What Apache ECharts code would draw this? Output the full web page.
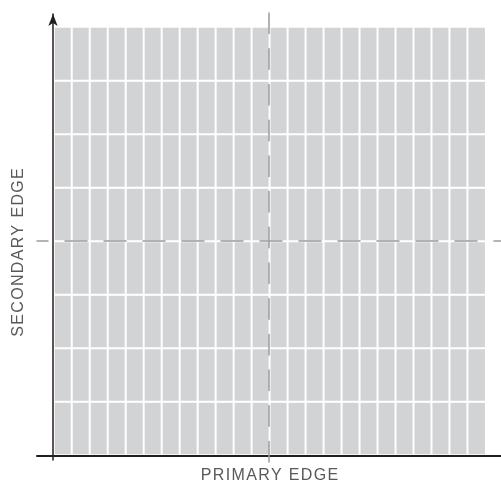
<!DOCTYPE html>
<html>
<head>
<meta charset="utf-8">
<script src="https://cdn.jsdelivr.net/npm/echarts@6/dist/echarts.min.js"></script>
<style>
html,body{margin:0;padding:0;background:#fff;}
#chart{width:501px;height:485px;}
</style>
</head>
<body>
<div id="chart"></div>
<script>
// ---- data ----
const columns = ['C1','C2','C3','C4','C5','C6','C7','C8','C9','C10','C11','C12',
                 'C13','C14','C15','C16','C17','C18','C19','C20','C21','C22','C23','C24'];
const rows = ['R1','R2','R3','R4','R5','R6','R7','R8'];
const cellValues = [
  [1,1,1,1,1,1,1,1,1,1,1,1,1,1,1,1,1,1,1,1,1,1,1,1],
  [1,1,1,1,1,1,1,1,1,1,1,1,1,1,1,1,1,1,1,1,1,1,1,1],
  [1,1,1,1,1,1,1,1,1,1,1,1,1,1,1,1,1,1,1,1,1,1,1,1],
  [1,1,1,1,1,1,1,1,1,1,1,1,1,1,1,1,1,1,1,1,1,1,1,1],
  [1,1,1,1,1,1,1,1,1,1,1,1,1,1,1,1,1,1,1,1,1,1,1,1],
  [1,1,1,1,1,1,1,1,1,1,1,1,1,1,1,1,1,1,1,1,1,1,1,1],
  [1,1,1,1,1,1,1,1,1,1,1,1,1,1,1,1,1,1,1,1,1,1,1,1],
  [1,1,1,1,1,1,1,1,1,1,1,1,1,1,1,1,1,1,1,1,1,1,1,1]
];
const xTitle = 'PRIMARY EDGE';
const yTitle = 'SECONDARY EDGE';

// ---- build ----
const heatData = [];
rows.forEach((r, ri) => columns.forEach((c, ci) => heatData.push([ci, ri, cellValues[ri][ci]])));

const spaced = s => s.split('').join('\u200A');
const FONT = '"Liberation Sans", Arial, sans-serif';
const hidden = {show: false};
const bare = {axisTick: {show: false}, axisLabel: {show: false}, splitLine: {show: false}};

const chart = echarts.init(document.getElementById('chart'), null, {renderer: 'canvas'});
chart.setOption({
  animation: false,
  backgroundColor: '#ffffff',
  grid: [
    {left: 54, right: 15.3, top: 27, bottom: 30},          // cells
    {left: 53, right: 0, top: 14, bottom: 25},             // vertical axis line
    {left: 37, right: 0, top: 300, bottom: 29},            // horizontal axis line
    {left: 37, right: 0, top: 241, bottom: 200},           // horizontal dashed
    {left: 269, right: 100, top: 13, bottom: 23}           // vertical dashed
  ],
  xAxis: [
    {gridIndex: 0, type: 'category', data: columns, show: false},
    {gridIndex: 1, type: 'value', show: false},
    Object.assign({gridIndex: 2, type: 'value', position: 'bottom', z: 6,
      axisLine: {show: true, onZero: false, lineStyle: {color: '#231f20', width: 2}}}, bare),
    Object.assign({gridIndex: 3, type: 'value', position: 'top', z: 10,
      axisLine: {show: true, onZero: false, lineStyle: {color: '#9b9b9b', width: 1.5, type: [22, 17], dashOffset: 11}}}, bare),
    {gridIndex: 4, type: 'value', show: false}
  ],
  yAxis: [
    {gridIndex: 0, type: 'category', data: rows, show: false},
    Object.assign({gridIndex: 1, type: 'value', position: 'left', z: 6,
      axisLine: {show: true, onZero: false, symbol: ['none', 'arrow'], symbolSize: [7, 12],
        lineStyle: {color: '#231f20', width: 1.5}}}, bare),
    {gridIndex: 2, type: 'value', show: false},
    {gridIndex: 3, type: 'value', show: false},
    Object.assign({gridIndex: 4, type: 'value', position: 'left', z: 10,
      axisLine: {show: true, onZero: false, lineStyle: {color: '#9b9b9b', width: 1.5, type: [20.5, 15.2], dashOffset: 0}}}, bare)
  ],
  visualMap: {show: false, min: 0, max: 1, seriesIndex: 0, inRange: {color: ['#d1d3d4', '#d1d3d4']}},
  series: [{
    type: 'heatmap',
    xAxisIndex: 0, yAxisIndex: 0,
    data: heatData,
    itemStyle: {borderColor: '#ffffff', borderWidth: 2},
    emphasis: {disabled: true},
    silent: true
  }],
  graphic: [
    {type: 'text', x: 269.5, y: 476, silent: true,
      style: {text: spaced(xTitle), font: '16px ' + FONT, fill: '#58595b', align: 'center', verticalAlign: 'middle'}},
    {type: 'text', x: 19, y: 252.5, rotation: Math.PI / 2, silent: true,
      style: {text: spaced(yTitle), font: '16px ' + FONT, fill: '#58595b', align: 'center', verticalAlign: 'middle'}}
  ]
});
</script>
</body>
</html>
